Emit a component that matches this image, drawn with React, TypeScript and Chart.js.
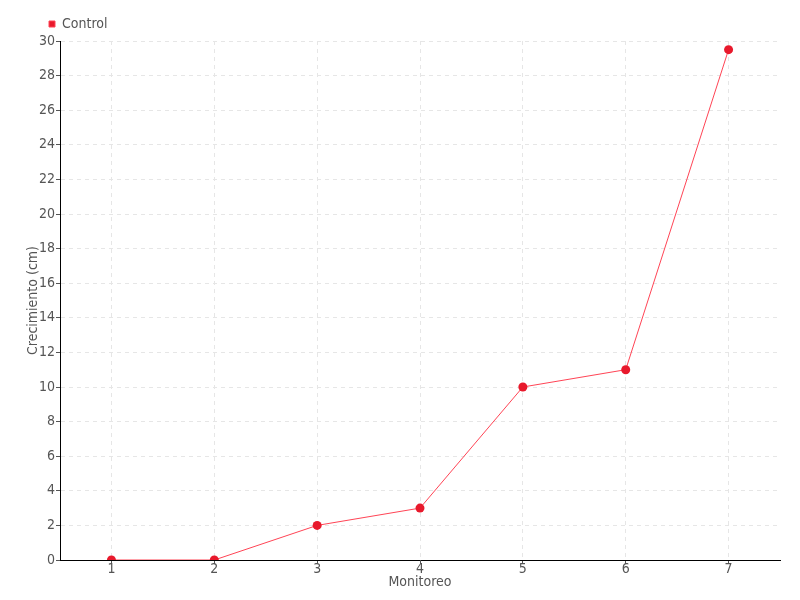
import React, { useEffect, useRef } from "react";
import { Chart, registerables } from "chart.js";

Chart.register(...registerables);

const categories = ["1", "2", "3", "4", "5", "6", "7"];
const controlValues = [0, 0, 2, 3, 10, 11, 29.5];
const seriesLabel = "Control";
const xTitle = "Monitoreo";
const yTitle = "Crecimiento (cm)";

const FONT = "'Liberation Sans Narrow', 'DejaVu Sans Condensed', sans-serif";

const legendShift = {
  id: "legendShift",
  afterLayout(chart: any) {
    if (chart.legend) {
      chart.legend.left = 41;
    }
  },
};

export default function App() {
  const ref = useRef<HTMLCanvasElement>(null);
  useEffect(() => {
    document.body.style.margin = "0";
    const chart = new Chart(ref.current!, {
      type: "line",
      data: {
        labels: categories,
        datasets: [
          {
            label: seriesLabel,
            data: controlValues,
            borderColor: "#ff4455",
            backgroundColor: "#e8192c",
            borderWidth: 1,
            pointRadius: 4.5,
            pointBackgroundColor: "#e8192c",
            pointBorderColor: "#e8192c",
            pointBorderWidth: 0,
            tension: 0,
          },
        ],
      },
      plugins: [legendShift],
      options: {
        animation: false,
        responsive: false,
        layout: { padding: { left: 0, right: 20, top: 9, bottom: 0 } },
        plugins: {
          legend: {
            position: "top",
            align: "start",
            labels: {
              boxWidth: 6,
              boxHeight: 6,
              padding: 8,
              color: "#555",
              font: { family: FONT, size: 14 },
            },
          },
          tooltip: { enabled: false },
        },
        scales: {
          x: {
            offset: true,
            grid: {
              offset: false,
              color: "#e6e6e6",
              tickColor: "#555",
              tickLength: 4,
              tickBorderDash: [],
            } as any,
            border: { color: "#000", width: 1, dash: [4, 4] },
            ticks: { color: "#555", font: { family: FONT, size: 14 }, padding: -3 },
            title: {
              display: true,
              text: xTitle,
              color: "#555",
              font: { family: FONT, size: 14 },
              padding: { top: 9, bottom: 9 },
            },
            afterFit: (s: any) => {
              s.height = 40;
            },
          },
          y: {
            min: 0,
            max: 30,
            grid: {
              color: "#e6e6e6",
              tickColor: "#555",
              tickLength: 4,
              tickBorderDash: [],
            } as any,
            border: { color: "#000", width: 1, dash: [4, 4] },
            ticks: { stepSize: 2, color: "#555", font: { family: FONT, size: 14 }, padding: 1 },
            title: {
              display: true,
              text: yTitle,
              color: "#555",
              font: { family: FONT, size: 14 },
              padding: { top: 25, bottom: 25 },
            },
            afterFit: (s: any) => {
              s.width = 60;
            },
          },
        },
      },
    } as any);
    return () => chart.destroy();
  }, []);
  return (
    <div style={{ position: "absolute", left: 0, top: 0, width: 800, height: 600 }}>
      <canvas ref={ref} width={800} height={600} style={{ width: 800, height: 600 }} />
    </div>
  );
}
